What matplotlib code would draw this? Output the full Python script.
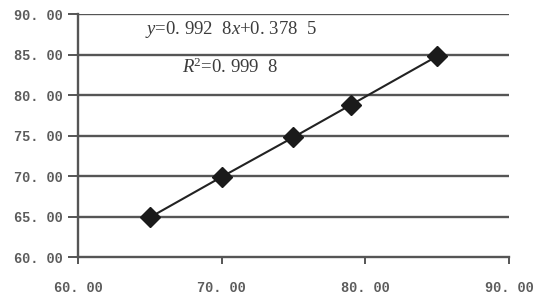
import matplotlib
matplotlib.use("Agg")
import matplotlib.pyplot as plt
from matplotlib.ticker import FixedLocator, FuncFormatter

x_vals = [65.0, 70.0, 75.0, 79.0, 85.0]
y_vals = [64.9, 69.9, 74.8, 78.8, 84.8]
x_ticks = [60, 70, 80, 90]
y_ticks = [60, 65, 70, 75, 80, 85, 90]
eq_text = r"$\it{y}$=0. 992  8$\it{x}$+0. 378  5"
r2_text = r"$\it{R}$$^2$=0. 999  8"

plt.rcParams['mathtext.fontset'] = 'custom'
plt.rcParams['mathtext.it'] = 'Liberation Serif:italic'
plt.rcParams['mathtext.rm'] = 'Liberation Serif'

fig = plt.figure(figsize=(5.38, 3.0), dpi=100)
ax = fig.add_axes([0.145, 0.143, 0.801, 0.810])

gc = '#555555'
ax.plot(x_vals, y_vals, color='#222222', lw=1.5, marker='D', markersize=10,
        markerfacecolor='#1a1a1a', markeredgecolor='#1a1a1a', zorder=3)

ax.set_xlim(60, 90)
ax.set_ylim(60, 90)
ax.xaxis.set_major_locator(FixedLocator(x_ticks))
ax.yaxis.set_major_locator(FixedLocator(y_ticks))
fmt = FuncFormatter(lambda v, p: f"{v:.2f}".replace('.', '. '))
ax.xaxis.set_major_formatter(fmt)
ax.yaxis.set_major_formatter(fmt)

for v in y_ticks[1:]:
    ax.axhline(v, color=gc, lw=1.7, zorder=1)

for s in ['top', 'right']:
    ax.spines[s].set_visible(False)
for s in ['left', 'bottom']:
    ax.spines[s].set_color(gc)
    ax.spines[s].set_linewidth(1.7)

ax.tick_params(axis='y', direction='out', length=7, width=1.4, color=gc,
               pad=4, labelsize=9.8, labelcolor='#5c5c5c')
ax.tick_params(axis='x', direction='out', length=5, width=1.4, color=gc,
               pad=12, labelsize=9.8, labelcolor='#5c5c5c')
for lab in ax.get_xticklabels() + ax.get_yticklabels():
    lab.set_family('Liberation Mono')
    lab.set_fontweight('bold')

ax.text(0.155, 0.935, eq_text, transform=ax.transAxes, fontsize=13.5,
        color='#3c3c3c', family='Liberation Serif', va='center', ha='left')
ax.text(0.242, 0.78, r2_text, transform=ax.transAxes, fontsize=13.5,
        color='#3c3c3c', family='Liberation Serif', va='center', ha='left')

fig.savefig('out.png', dpi=100)
